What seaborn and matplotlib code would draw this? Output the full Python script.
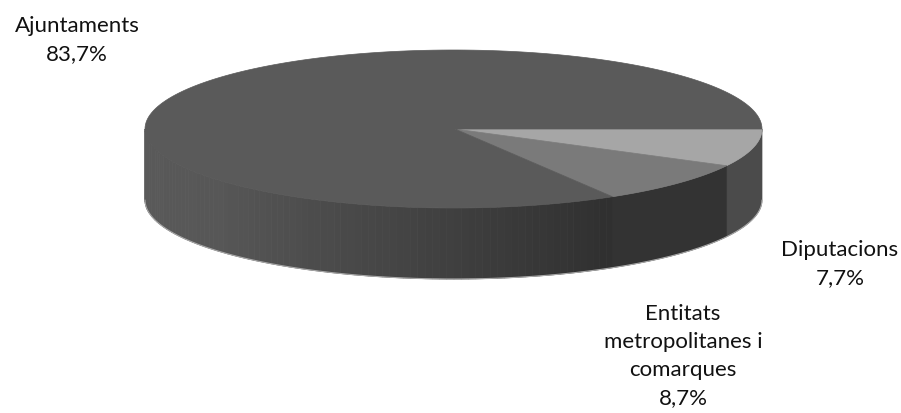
import numpy as np
import matplotlib
matplotlib.use("Agg")
import matplotlib.pyplot as plt
import seaborn as sns
from matplotlib.patches import Polygon

# data (order: clockwise from 3 o'clock)
labels = ["Diputacions", "Entitats\nmetropolitanes i\ncomarques", "Ajuntaments"]
values = [7.7, 8.7, 83.7]
pct_text = ["7,7%", "8,7%", "83,7%"]
top_colors = ["#a6a6a6", "#7a7a7a", "#5a5a5a"]
side_colors = ["#4b4b4b", "#333333", None]  # big slice side gets a gradient

sns.set_theme(style="white")
plt.rcParams["font.family"] = ["Lato", "DejaVu Sans"]

fig = plt.figure(figsize=(9.01, 4.13), dpi=100)
ax = fig.add_axes([0, 0, 1, 1])
ax.set_xlim(0, 901)
ax.set_ylim(413, 0)
ax.axis("off")

# pie geometry in pixel space
cx, cy = 453.5, 129
rx, ry = 308.5, 79
depth = 71


def edge(theta):
    return cx + rx * np.cos(theta), cy + ry * np.sin(theta)


fracs = np.array(values) / sum(values)
bounds = np.concatenate([[0], np.cumsum(fracs)]) * 2 * np.pi

# sides (only the front half is visible: 0..pi)
for i in range(len(values)):
    t0, t1 = bounds[i], min(bounds[i + 1], np.pi)
    if t0 >= np.pi:
        continue
    if side_colors[i] is not None:
        t = np.linspace(t0, t1, 60)
        x, y = edge(t)
        pts = np.column_stack([np.r_[x, x[::-1]], np.r_[y, y[::-1] + depth]])
        ax.add_patch(Polygon(pts, closed=True, fc=side_colors[i], ec=side_colors[i], lw=0.5))
    else:
        n = 90
        grad = sns.blend_palette(["#303030", "#444444", "#575757", "#5a5a5a"], n_colors=n)
        tt = np.linspace(t0, t1, n + 1)
        for k in range(n):
            t = np.linspace(tt[k], tt[k + 1], 4)
            x, y = edge(t)
            pts = np.column_stack([np.r_[x, x[::-1]], np.r_[y, y[::-1] + depth]])
            ax.add_patch(Polygon(pts, closed=True, fc=grad[k], ec=grad[k], lw=0.6))

# light rim on the bottom edge
t = np.linspace(0, np.pi, 200)
x, y = edge(t)
ax.plot(x, y + depth, color="#a8a8a8", lw=0.8)

# tops
for i in range(len(values)):
    t = np.linspace(bounds[i], bounds[i + 1], 200)
    x, y = edge(t)
    pts = np.column_stack([np.r_[cx + 1.5, x], np.r_[cy, y]])
    ax.add_patch(Polygon(pts, closed=True, fc=top_colors[i], ec=top_colors[i], lw=0.5))

# labels
fs = 16
kw = dict(ha="center", va="center", fontsize=fs, color="#111111", linespacing=1.5)
ax.text(77, 40, labels[2] + "\n" + pct_text[2], **kw)
ax.text(840, 264, labels[0] + "\n" + pct_text[0], **kw)
ax.text(683, 356, labels[1] + "\n" + pct_text[1], **kw)

fig.savefig("out.png", dpi=100)
